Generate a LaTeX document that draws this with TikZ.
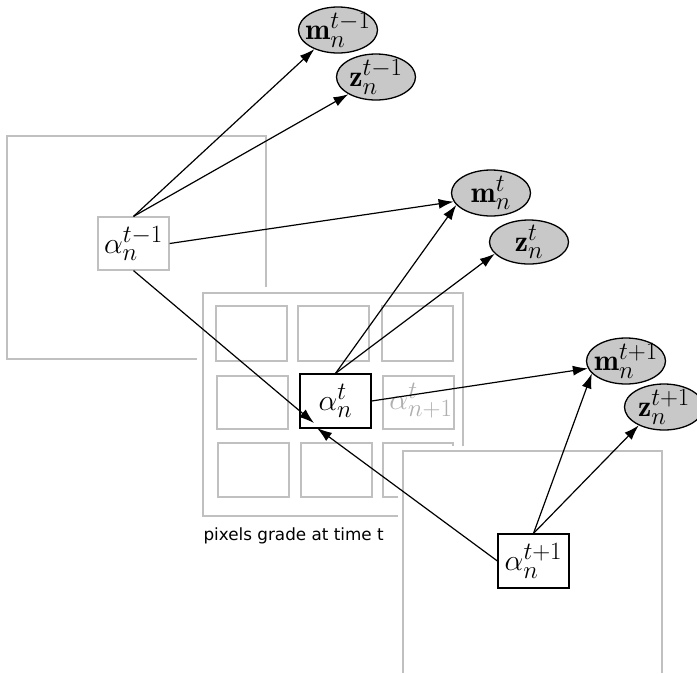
\documentclass[tikz,border=0pt]{standalone}
\usepackage{fontspec}
\usepackage{graphicx}
\newfontfamily\labelfont{DejaVu Sans}
\usetikzlibrary{arrows.meta,shapes.geometric}
\definecolor{framegray}{RGB}{192,192,192}
\definecolor{fillgray}{RGB}{200,200,200}
\definecolor{ghostgray}{RGB}{175,175,175}
\newcommand{\mtxt}[1]{\scalebox{1.2}{\fontsize{24.88}{30}\selectfont$#1$}}
\begin{document}
\begin{tikzpicture}[x=1pt,y=-1pt,
  framelines/.style={draw=framegray, line width=1.5pt},
  pixcell/.style={draw=framegray, line width=1.5pt},
  pbox/.style={rectangle, draw, fill=white, minimum width=71pt, minimum height=53pt, inner sep=0pt, line width=1.2pt},
  obs/.style={ellipse, draw, fill=fillgray, minimum width=79pt, minimum height=46pt, inner sep=0pt, line width=1.3pt},
  obstext/.style={label={[inner sep=0pt]center:\mtxt{#1}}},
  conn/.style={-{Latex[length=15pt,width=10pt]}, line width=1.2pt}]
\useasboundingbox (0,0) rectangle (697,673);

% left frame (time t-1)
\draw[framelines] (266,287) -- (266,136) -- (7,136) -- (7,359) -- (197,359);
\node[pbox, draw=framegray] (a1) at (133.5,243.5) {\mtxt{\alpha_n^{t-1}}};

% grid frame (time t)
\fill[white] (197,287) rectangle (469,522);
\draw[framelines] (203,293) rectangle (463,516);
\draw[pixcell] (216,306) rectangle (287,361);
\draw[pixcell] (298,306) rectangle (369,361);
\draw[pixcell] (382,306) rectangle (453,361);
\draw[pixcell] (217,376) rectangle (288,429);
\draw[pixcell] (383,376) rectangle (454,429);
\draw[pixcell] (218,443) rectangle (289,497);
\draw[pixcell] (301,443) rectangle (372,497);
\draw[pixcell] (383,443) rectangle (453,497);
\node[pbox, minimum height=54pt] (at) at (335.5,401) {\mtxt{\alpha_n^{t}}};
\node[text=ghostgray, inner sep=0pt] (an1) at (421,401) {\mtxt{\alpha_{n+1}^{t}}};
\node[font=\labelfont\fontsize{16.8}{20}\selectfont, anchor=west] (lbl) at (200,536) {pixels grade at time t};

% right frame (time t+1)
\fill[white] (398,446) rectangle (669,673);
\draw[framelines] (403,673) -- (403,451) -- (662,451) -- (662,673);
\node[pbox, minimum height=54pt] (a3) at (533.5,561) {\mtxt{\alpha_n^{t+1}}};

% observed variables
\node[obs, obstext={\mathbf{m}_n^{t-1}}] (m1) at (338,30) {};
\node[obs, obstext={\mathbf{z}_n^{t-1}}] (z1) at (376,77) {};
\node[obs, obstext={\mathbf{m}_n^{t}}] (m2) at (491,193) {};
\node[obs, minimum height=44pt, obstext={\mathbf{z}_n^{t}}] (z2) at (529,242) {};
\node[obs, obstext={\mathbf{m}_n^{t+1}}] (m3) at (626,361) {};
\node[obs, obstext={\mathbf{z}_n^{t+1}}] (z3) at (664,407) {};

% connectors
\coordinate (atin) at (314,423);
\coordinate (atbot) at (317,428);
\draw[conn] (a1.north) -- (m1.219);
\draw[conn] (a1.north) -- (z1.212);
\draw[conn] (a1.east) -- (m2.193);
\draw[conn] (a1.south) -- (atin);
\draw[conn] (at.north) -- (m2.199);
\draw[conn] (at.north) -- (z2.199);
\draw[conn] (at.east) -- (m3.191);
\draw[conn] (a3.north) -- (m3.200);
\draw[conn] (a3.north) -- (z3.216);
\draw[conn] (a3.west) -- (atbot);
\end{tikzpicture}
\end{document}
